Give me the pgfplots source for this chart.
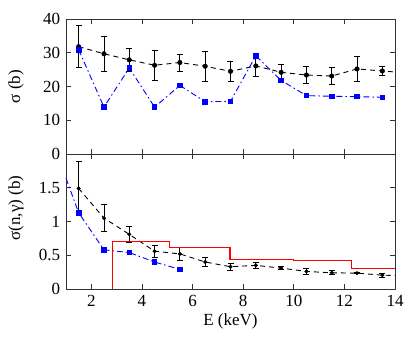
\documentclass[border=0pt]{standalone}
\usepackage{fontspec}
\setmainfont{Liberation Serif}
\usepackage{pgfplots}
\pgfplotsset{compat=1.18}
\begin{document}
\fontsize{17}{20}\selectfont
\begin{tikzpicture}
\useasboundingbox (-66pt,-51pt) rectangle (349pt,289pt);
\pgfplotsset{
  every axis/.append style={
    scale only axis, width=329pt, height=135pt,
    xmin=1, xmax=14, xtick={2,4,...,14},
    tick align=inside, major tick length=5pt,
    axis line style={line width=0.9pt, black!80},
    every tick/.style={black!80, line width=0.7pt},
    tick label style={font=\fontsize{17}{20}\selectfont},
    label style={font=\fontsize{17}{20}\selectfont},
    /pgf/number format/assume math mode=true,
    clip=false,
  },
  blk/.style={black, line width=0.9pt, dashed, dash pattern=on 5pt off 4pt},
  blu/.style={blue, line width=0.9pt, dash pattern=on 6pt off 3pt on 1.5pt off 3pt},
  errpts/.style={only marks, black, mark=*,
    error bars/.cd, y dir=both, y explicit,
    error bar style={line width=0.9pt, black},
    error mark options={rotate=90, mark size=3pt, line width=0.9pt, black}},
}
% ---------- top panel ----------
\begin{axis}[at={(0,135pt)}, anchor=south west,
  ymin=0, ymax=40, ytick={0,10,20,30,40}, xticklabels={},
  ylabel={σ (b)},
  ylabel style={at={(axis description cs:-0.152,0.5)}, anchor=center}]
\addplot[blk] coordinates {(1.5,31.8)(2.5,29.7)(3.5,27.9)(4.5,26.3)(5.5,27.1)(6.5,26.0)(7.5,24.5)(8.5,26.1)(9.5,24.2)(10.5,23.4)(11.5,23.1)(12.5,25.2)(13.5,24.6)(14,24.3)};
\addplot[mark size=2.3pt, errpts] table[y error=e] {
x y e
1.5 31.8 6.2
2.5 29.7 5.2
3.5 27.9 3.3
4.5 26.3 4.4
5.5 27.1 2.5
6.5 26.0 4.4
7.5 24.5 3.0
8.5 26.1 3.0
9.5 24.2 2.4
10.5 23.4 2.5
11.5 23.1 2.6
12.5 25.2 3.6
13.5 24.6 1.4
};
\addplot[blu, mark=square*, mark size=2.3pt, mark options={solid}] coordinates {(1.5,30.9)(2.5,13.9)(3.5,25.5)(4.5,13.9)(5.5,20.3)(6.5,15.5)(7.5,15.6)(8.5,29.1)(9.5,21.8)(10.5,17.3)(11.5,17.1)(12.5,17.0)(13.5,16.8)};
\end{axis}
% ---------- bottom panel ----------
\begin{axis}[at={(0,0)}, anchor=south west,
  ymin=0, ymax=2, ytick={0,0.5,1,1.5},
  xlabel={E (keV)},
  xlabel style={at={(axis description cs:0.5,0)}, yshift=-32pt, anchor=center},
  ylabel={σ(n,γ) (b)},
  ylabel style={at={(axis description cs:-0.152,0.6)}, anchor=center}]
\addplot[blk] coordinates {(1.5,1.49)(2.5,1.05)(3.5,0.81)(4.5,0.56)(5.5,0.52)(6.5,0.40)(7.5,0.33)(8.5,0.35)(9.5,0.31)(10.5,0.26)(11.5,0.24)(12.5,0.235)(13.5,0.205)(14,0.20)};
\addplot[mark size=1.8pt, errpts] table[y error=e] {
x y e
1.5 1.49 0.40
2.5 1.05 0.20
3.5 0.81 0.12
4.5 0.56 0.09
5.5 0.52 0.09
6.5 0.40 0.07
7.5 0.33 0.05
8.5 0.35 0.05
9.5 0.31 0.02
10.5 0.26 0.04
11.5 0.24 0.03
12.5 0.235 0.01
13.5 0.205 0.03
};
\addplot[blu, mark=square*, mark size=2.3pt, mark options={solid}, mark indices={2,3,4,5,6}] coordinates {(1,1.64)(1.5,1.13)(2.5,0.58)(3.5,0.54)(4.5,0.40)(5.5,0.29)};
\addplot[draw=red, line width=1.4pt, const plot, solid, no marks] coordinates {(2.83,0)(2.83,0.703)(5.08,0.613)(7.48,0.433)(10,0.423)(12.27,0.303)(14,0.303)};
\end{axis}
\end{tikzpicture}
\end{document}
